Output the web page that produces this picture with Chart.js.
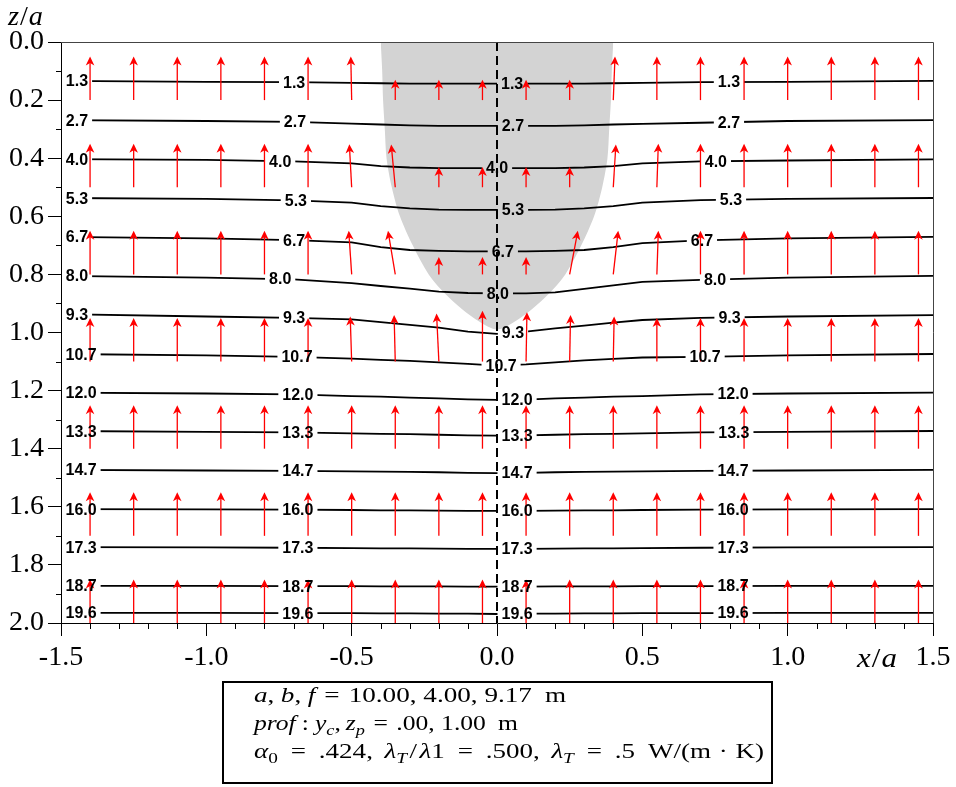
<!DOCTYPE html>
<html>
<head>
<meta charset="utf-8">
<script src="https://cdn.jsdelivr.net/npm/chart.js@4.4.1/dist/chart.umd.min.js"></script>
<style>
  html, body { margin: 0; padding: 0; background: #fff; }
  canvas { display: block; }
</style>
</head>
<body>
<canvas id="isoChart" width="956" height="787"></canvas>
<script>
// x/a stations shared by every isotherm
const xStations = [-1.5, -1.0, -0.7, -0.5, -0.4, -0.3, -0.2, -0.1, 0, 0.1, 0.2, 0.3, 0.4, 0.5, 0.7, 1.0, 1.5];

const levels = ['1.3', '2.7', '4.0', '5.3', '6.7', '8.0', '9.3', '10.7', '12.0', '13.3', '14.7', '16.0', '17.3', '18.7', '19.6'];

// depth z/a of each isotherm at the stations above
const isoZ = [
  [0.134, 0.137, 0.138, 0.141, 0.142, 0.143, 0.143, 0.143, 0.143, 0.143, 0.143, 0.143, 0.142, 0.141, 0.138, 0.137, 0.134],
  [0.269, 0.272, 0.275, 0.281, 0.284, 0.287, 0.289, 0.289, 0.289, 0.289, 0.289, 0.287, 0.284, 0.282, 0.278, 0.272, 0.269],
  [0.403, 0.406, 0.411, 0.418, 0.427, 0.432, 0.434, 0.434, 0.434, 0.434, 0.434, 0.432, 0.427, 0.418, 0.411, 0.408, 0.404],
  [0.537, 0.540, 0.545, 0.553, 0.565, 0.573, 0.577, 0.578, 0.578, 0.578, 0.577, 0.573, 0.565, 0.553, 0.544, 0.540, 0.537],
  [0.671, 0.676, 0.682, 0.690, 0.706, 0.716, 0.719, 0.721, 0.721, 0.721, 0.719, 0.716, 0.706, 0.692, 0.683, 0.676, 0.671],
  [0.805, 0.811, 0.817, 0.830, 0.840, 0.849, 0.859, 0.864, 0.865, 0.865, 0.862, 0.850, 0.838, 0.826, 0.819, 0.811, 0.805],
  [0.937, 0.945, 0.950, 0.955, 0.964, 0.974, 0.983, 0.997, 1.005, 0.997, 0.986, 0.976, 0.966, 0.957, 0.950, 0.945, 0.940],
  [1.074, 1.079, 1.084, 1.090, 1.094, 1.098, 1.103, 1.108, 1.114, 1.110, 1.103, 1.096, 1.091, 1.086, 1.084, 1.079, 1.074],
  [1.207, 1.210, 1.213, 1.219, 1.221, 1.224, 1.227, 1.230, 1.232, 1.231, 1.227, 1.224, 1.221, 1.219, 1.213, 1.210, 1.207],
  [1.339, 1.342, 1.344, 1.347, 1.349, 1.350, 1.352, 1.354, 1.355, 1.354, 1.352, 1.350, 1.349, 1.347, 1.344, 1.342, 1.339],
  [1.473, 1.475, 1.476, 1.478, 1.479, 1.480, 1.481, 1.483, 1.484, 1.483, 1.481, 1.480, 1.479, 1.478, 1.476, 1.475, 1.473],
  [1.608, 1.609, 1.610, 1.611, 1.612, 1.612, 1.613, 1.614, 1.614, 1.614, 1.613, 1.612, 1.612, 1.611, 1.610, 1.609, 1.608],
  [1.739, 1.740, 1.741, 1.742, 1.743, 1.743, 1.744, 1.745, 1.745, 1.745, 1.744, 1.743, 1.743, 1.742, 1.741, 1.740, 1.739],
  [1.872, 1.872, 1.873, 1.873, 1.874, 1.874, 1.874, 1.875, 1.875, 1.875, 1.874, 1.874, 1.874, 1.873, 1.873, 1.872, 1.872],
  [1.965, 1.965, 1.966, 1.966, 1.967, 1.967, 1.968, 1.968, 1.969, 1.968, 1.968, 1.967, 1.967, 1.966, 1.966, 1.965, 1.965]
];

// x/a where each isotherm carries its value
const labelX = [
  [-1.445, -0.698, 0.052, 0.798],
  [-1.445, -0.695, 0.055, 0.798],
  [-1.445, -0.746, 0.000, 0.753],
  [-1.445, -0.692, 0.055, 0.805],
  [-1.445, -0.698, 0.020, 0.705],
  [-1.445, -0.746, 0.003, 0.750],
  [-1.445, -0.698, 0.055, 0.800],
  [-1.431, -0.688, 0.014, 0.716],
  [-1.431, -0.685, 0.069, 0.812],
  [-1.431, -0.685, 0.069, 0.815],
  [-1.431, -0.685, 0.069, 0.812],
  [-1.431, -0.685, 0.069, 0.812],
  [-1.431, -0.685, 0.069, 0.812],
  [-1.431, -0.685, 0.069, 0.812],
  [-1.431, -0.685, 0.069, 0.812]
];

// outline of the shaded zone
const zoneX = [-0.40, -0.395, -0.392, -0.386, -0.38, -0.362, -0.334, -0.29, -0.235, -0.18, -0.12, -0.06, 0,
               0.06, 0.12, 0.18, 0.235, 0.29, 0.334, 0.362, 0.38, 0.386, 0.392, 0.395, 0.40];
const zoneZ = [0, 0.1, 0.2, 0.3, 0.4, 0.5, 0.6, 0.7, 0.8, 0.865, 0.92, 0.963, 0.99,
               0.963, 0.92, 0.865, 0.8, 0.7, 0.6, 0.5, 0.4, 0.3, 0.2, 0.1, 0];

// flux arrows: tails on a grid, (u, w) components in x/a and z/a
const arrowCols = [-1.4, -1.25, -1.1, -0.95, -0.8, -0.65, -0.5, -0.35, -0.2, -0.05, 0.1, 0.25, 0.4, 0.55, 0.7, 0.85, 1.0, 1.15, 1.3, 1.45];
const arrowRows = [0.2, 0.5, 0.8, 1.1, 1.4, 1.7, 2.0];
const arrowU = [
  [0, 0, 0, 0, 0, 0, -0.003, 0, 0, 0, 0, 0, 0.006, 0, 0, 0, 0, 0, 0, 0],
  [0, 0, 0, 0, 0, 0, -0.008, -0.014, 0, 0, 0, 0, 0.009, 0.005, 0, 0, 0, 0, 0, 0],
  [0, 0, 0, 0, 0, 0, -0.010, -0.025, 0, 0, 0, 0.028, 0.017, 0.005, 0, 0, 0, 0, 0, 0],
  [0, 0, 0, 0, 0, 0, -0.005, -0.004, -0.008, 0, 0.003, 0.003, 0.003, 0, 0, 0, 0, 0, 0, 0],
  [0, 0, 0, 0, 0, 0, 0, 0, 0, 0, 0, 0, 0, 0, 0, 0, 0, 0, 0, 0],
  [0, 0, 0, 0, 0, 0, 0, 0, 0, 0, 0, 0, 0, 0, 0, 0, 0, 0, 0, 0],
  [0, 0, 0, 0, 0, 0, 0, 0, 0, 0, 0, 0, 0, 0, 0, 0, 0, 0, 0, 0]
];
const arrowW = [
  [-0.15, -0.15, -0.15, -0.15, -0.15, -0.15, -0.15, -0.07, -0.07, -0.07, -0.07, -0.07, -0.15, -0.15, -0.15, -0.15, -0.15, -0.15, -0.15, -0.15],
  [-0.15, -0.15, -0.15, -0.15, -0.15, -0.15, -0.148, -0.147, -0.07, -0.07, -0.07, -0.07, -0.147, -0.15, -0.15, -0.15, -0.15, -0.15, -0.15, -0.15],
  [-0.15, -0.15, -0.15, -0.15, -0.15, -0.15, -0.15, -0.15, -0.06, -0.06, -0.06, -0.15, -0.15, -0.15, -0.15, -0.15, -0.15, -0.15, -0.15, -0.15],
  [-0.15, -0.15, -0.15, -0.15, -0.15, -0.15, -0.155, -0.16, -0.165, -0.175, -0.17, -0.16, -0.155, -0.15, -0.15, -0.15, -0.15, -0.15, -0.15, -0.15],
  [-0.15, -0.15, -0.15, -0.15, -0.15, -0.15, -0.15, -0.15, -0.15, -0.15, -0.15, -0.15, -0.15, -0.15, -0.15, -0.15, -0.15, -0.15, -0.15, -0.15],
  [-0.15, -0.15, -0.15, -0.15, -0.15, -0.15, -0.15, -0.15, -0.15, -0.15, -0.15, -0.15, -0.15, -0.15, -0.15, -0.15, -0.15, -0.15, -0.15, -0.15],
  [-0.15, -0.15, -0.15, -0.15, -0.15, -0.15, -0.15, -0.15, -0.15, -0.15, -0.15, -0.15, -0.15, -0.15, -0.15, -0.15, -0.15, -0.15, -0.15, -0.15]
];

const xTickValues = [-1.5, -1.0, -0.5, 0.0, 0.5, 1.0, 1.5];
const yTickValues = [0.0, 0.2, 0.4, 0.6, 0.8, 1.0, 1.2, 1.4, 1.6, 1.8, 2.0];

const SERIF = '"Liberation Serif", "Times New Roman", serif';
const LABEL_FONT = 'bold 16px "Liberation Sans", Arial, sans-serif';

// linear lookup of an isotherm's depth, used to place its labels
function zAt(li, x) {
  const zs = isoZ[li];
  for (let i = 0; i < xStations.length - 1; i++) {
    if (x >= xStations[i] && x <= xStations[i + 1]) {
      const t = (x - xStations[i]) / (xStations[i + 1] - xStations[i]);
      return zs[i] + t * (zs[i + 1] - zs[i]);
    }
  }
  return zs[zs.length - 1];
}

function labelBoxes(chart, li) {
  const ctx = chart.ctx;
  const xs = chart.scales.x, ys = chart.scales.y;
  ctx.save();
  ctx.font = LABEL_FONT;
  const w = ctx.measureText(levels[li]).width;
  ctx.restore();
  return labelX[li].map(lx => {
    const cx = xs.getPixelForValue(lx);
    const cy = ys.getPixelForValue(zAt(li, lx));
    return { cx, cy, x: cx - w / 2 - 4, y: cy - 8, w: w + 8, h: 16 };
  });
}

function drawArrow(ctx, x0, y0, x1, y1) {
  const dx = x1 - x0, dy = y1 - y0;
  const len = Math.hypot(dx, dy);
  if (len < 1) return;
  const ux = dx / len, uy = dy / len;
  const hl = 9, hw = 4.3;
  ctx.beginPath();
  ctx.moveTo(x0, y0);
  ctx.lineTo(x1 - ux * hl * 0.6, y1 - uy * hl * 0.6);
  ctx.stroke();
  ctx.beginPath();
  ctx.moveTo(x1, y1);
  ctx.lineTo(x1 - ux * hl - uy * hw, y1 - uy * hl + ux * hw);
  ctx.lineTo(x1 - ux * hl * 0.72, y1 - uy * hl * 0.72);
  ctx.lineTo(x1 - ux * hl + uy * hw, y1 - uy * hl - ux * hw);
  ctx.closePath();
  ctx.fill();
}

function pieceFont(p, size) {
  const s = p.sub ? Math.round(size * 0.7) : size;
  return (p.it ? 'italic ' : '') + s + 'px ' + SERIF;
}

// one line of math-like text, stretched horizontally to run from x0 to x1
function drawMathLine(ctx, parts, x0, x1, y, size) {
  let w = 0;
  parts.forEach(p => {
    ctx.font = pieceFont(p, size);
    w += (p.gap || 0) + ctx.measureText(p.t).width;
  });
  ctx.save();
  ctx.translate(x0, y);
  ctx.scale((x1 - x0) / w, 1);
  let cx = 0;
  parts.forEach(p => {
    cx += p.gap || 0;
    ctx.font = pieceFont(p, size);
    ctx.fillText(p.t, cx, p.sub ? size * 0.24 : 0);
    cx += ctx.measureText(p.t).width;
  });
  ctx.restore();
}

const isoPlugin = {
  id: 'isoDecor',
  beforeDatasetDraw(chart, args) {
    const ds = chart.data.datasets[args.index];
    if (ds.levelIndex === undefined) return;
    const ctx = chart.ctx, a = chart.chartArea;
    ctx.save();
    ctx.beginPath();
    ctx.rect(a.left, a.top, a.right - a.left, a.bottom - a.top);
    labelBoxes(chart, ds.levelIndex).forEach(b => ctx.rect(b.x, b.y, b.w, b.h));
    ctx.clip('evenodd');
  },
  afterDatasetDraw(chart, args) {
    const ds = chart.data.datasets[args.index];
    if (ds.levelIndex === undefined) return;
    chart.ctx.restore();
  },
  afterDatasetsDraw(chart) {
    const ctx = chart.ctx, a = chart.chartArea;
    const xs = chart.scales.x, ys = chart.scales.y;

    // flux arrows
    const ai = chart.data.datasets.findIndex(d => d.isArrows);
    const meta = chart.getDatasetMeta(ai);
    ctx.save();
    ctx.strokeStyle = '#ff0000';
    ctx.fillStyle = '#ff0000';
    ctx.lineWidth = 1.3;
    meta.data.forEach((el, i) => {
      const d = chart.data.datasets[ai].data[i];
      drawArrow(ctx, el.x, el.y, xs.getPixelForValue(d.x + d.u), ys.getPixelForValue(d.y + d.w));
    });
    ctx.restore();

    // isotherm values
    ctx.save();
    ctx.font = LABEL_FONT;
    ctx.fillStyle = '#000';
    ctx.textAlign = 'center';
    ctx.textBaseline = 'middle';
    levels.forEach((lv, li) => {
      labelBoxes(chart, li).forEach(b => ctx.fillText(lv, b.cx, b.cy + 1));
    });
    ctx.restore();

    // minor ticks, frame
    ctx.save();
    ctx.strokeStyle = '#000';
    ctx.lineWidth = 1;
    ctx.beginPath();
    for (let k = 1; k < 20; k += 2) {
      const py = Math.round(ys.getPixelForValue(k / 10)) + 0.5;
      ctx.moveTo(a.left - 5, py);
      ctx.lineTo(a.left, py);
    }
    for (let k = -15; k <= 15; k++) {
      if (k % 5 === 0) continue;
      const px = Math.round(xs.getPixelForValue(k / 10)) + 0.5;
      ctx.moveTo(px, a.bottom);
      ctx.lineTo(px, a.bottom + 6);
    }
    ctx.stroke();
    ctx.strokeStyle = '#444';
    ctx.beginPath();
    ctx.moveTo(a.left, Math.round(a.top) + 0.5);
    ctx.lineTo(Math.round(a.right) + 0.5, Math.round(a.top) + 0.5);
    ctx.lineTo(Math.round(a.right) + 0.5, a.bottom);
    ctx.stroke();
    ctx.restore();

    // axis titles
    ctx.save();
    ctx.fillStyle = '#000';
    ctx.textBaseline = 'alphabetic';
    drawMathLine(ctx, [{ t: 'z', it: true }, { t: '/', gap: 1 }, { t: 'a', it: true, gap: 1 }], 8, 43, 25, 28);
    drawMathLine(ctx, [{ t: 'x', it: true }, { t: '/', gap: 1 }, { t: 'a', it: true, gap: 1 }], 857, 897, 667, 28);

    // parameter box
    ctx.lineWidth = 2;
    ctx.strokeStyle = '#000';
    ctx.strokeRect(223, 682, 549, 101);
    const fs = 21;
    drawMathLine(ctx, [
      { t: 'a', it: true }, { t: ',' }, { t: 'b', it: true, gap: 5 }, { t: ',' }, { t: 'f', it: true, gap: 5 },
      { t: '=', gap: 7 }, { t: '10.00, 4.00, 9.17', gap: 7 }, { t: 'm', gap: 10 }
    ], 254, 566, 702, fs);
    drawMathLine(ctx, [
      { t: 'prof', it: true }, { t: ':', gap: 5 }, { t: 'y', it: true, gap: 5 }, { t: 'c', it: true, sub: true },
      { t: ',' }, { t: 'z', it: true, gap: 4 }, { t: 'p', it: true, sub: true },
      { t: '=', gap: 7 }, { t: '.00, 1.00', gap: 7 }, { t: 'm', gap: 10 }
    ], 254, 518, 730, fs);
    drawMathLine(ctx, [
      { t: 'α', it: true }, { t: '0', sub: true }, { t: '=', gap: 10 }, { t: '.424,', gap: 10 },
      { t: 'λ', it: true, gap: 9 }, { t: 'T', it: true, sub: true }, { t: '/', gap: 2 }, { t: 'λ', it: true, gap: 2 }, { t: '1' },
      { t: '=', gap: 10 }, { t: '.500,', gap: 10 },
      { t: 'λ', it: true, gap: 9 }, { t: 'T', it: true, sub: true }, { t: '=', gap: 10 }, { t: '.5', gap: 10 },
      { t: 'W/(m', gap: 10 }, { t: '·', gap: 6 }, { t: 'K)', gap: 6 }
    ], 254, 764, 758, fs);
    ctx.restore();
  }
};

const datasets = [];

// dashed symmetry axis
datasets.push({
  data: [{ x: 0, y: 0 }, { x: 0, y: 2 }],
  showLine: true, pointRadius: 0,
  borderColor: '#000', borderWidth: 2, borderDash: [9, 5],
  order: 0
});

// isotherms
levels.forEach((lv, li) => {
  datasets.push({
    levelIndex: li,
    data: xStations.map((x, i) => ({ x, y: isoZ[li][i] })),
    showLine: true, pointRadius: 0,
    borderColor: '#000', borderWidth: 1.8,
    order: 1
  });
});

// arrow tails (drawn by the plugin)
const arrowPoints = [];
arrowRows.forEach((z, r) => {
  arrowCols.forEach((x, c) => {
    arrowPoints.push({ x, y: z, u: arrowU[r][c], w: arrowW[r][c] });
  });
});
datasets.push({ isArrows: true, data: arrowPoints, pointRadius: 0, showLine: false, order: 2 });

// shaded zone, filled up to z/a = 0
datasets.push({
  data: zoneX.map((x, i) => ({ x, y: zoneZ[i] })),
  showLine: true, pointRadius: 0, borderWidth: 0,
  borderColor: 'rgba(0,0,0,0)',
  backgroundColor: '#d3d3d3',
  fill: { value: 0 },
  tension: 0.3,
  order: 5
});

new Chart(document.getElementById('isoChart'), {
  type: 'scatter',
  data: { datasets },
  options: {
    responsive: false,
    animation: false,
    events: [],
    layout: { padding: { left: 0, right: 23, top: 42, bottom: 114 } },
    plugins: { legend: { display: false }, tooltip: { enabled: false } },
    scales: {
      x: {
        type: 'linear', min: -1.5, max: 1.5, position: 'bottom',
        afterBuildTicks: s => { s.ticks = xTickValues.map(v => ({ value: v })); },
        afterFit: s => { s.height = 50; },
        ticks: {
          callback: v => v.toFixed(1), color: '#000', padding: 5,
          maxRotation: 0, autoSkip: false,
          font: { family: SERIF, size: 28 }
        },
        grid: { drawOnChartArea: false, tickLength: 13, tickColor: '#000', color: '#000' },
        border: { color: '#000', width: 1 }
      },
      y: {
        type: 'linear', min: 0, max: 2, reverse: true,
        afterBuildTicks: s => { s.ticks = yTickValues.map(v => ({ value: v })); },
        afterFit: s => { s.width = 61; },
        ticks: {
          callback: v => v.toFixed(1), color: '#000', padding: 4,
          autoSkip: false,
          font: { family: SERIF, size: 28 }
        },
        grid: { drawOnChartArea: false, tickLength: 13, tickColor: '#000', color: '#000' },
        border: { color: '#000', width: 1 }
      }
    }
  },
  plugins: [isoPlugin]
});
</script>
</body>
</html>
